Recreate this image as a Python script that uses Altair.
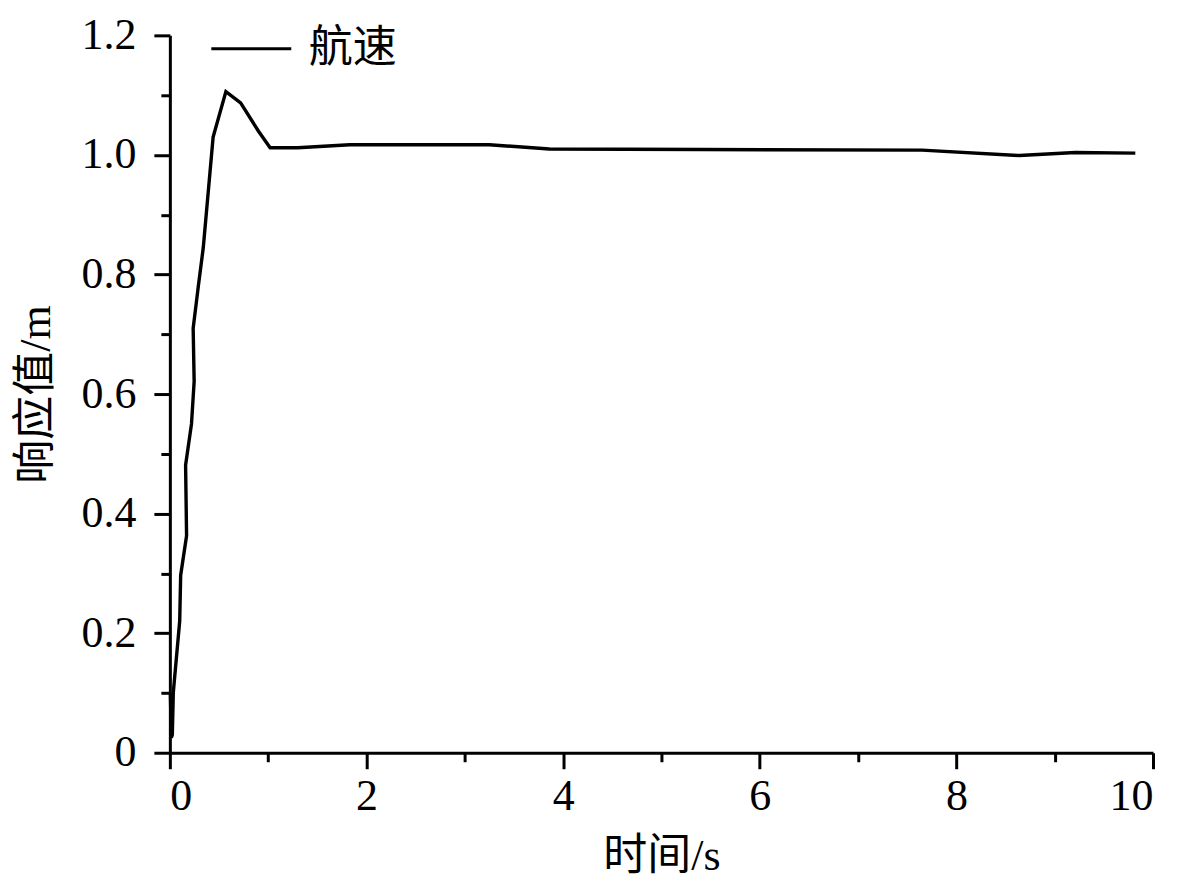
import altair as alt
import pandas as pd

# time (s) and response values
t_vals = [0.005, 0.015, 0.025, 0.035, 0.04, 0.10, 0.11, 0.17, 0.16, 0.22, 0.247, 0.237,
          0.29, 0.34, 0.44, 0.57, 0.72, 0.90, 1.02, 1.30, 1.83, 3.25, 3.86, 5.40,
          7.65, 8.64, 9.21, 9.82]
v_vals = [0.10, 0.025, 0.03, 0.10, 0.11, 0.22, 0.297, 0.363, 0.481, 0.550, 0.621, 0.710,
          0.781, 0.845, 1.030, 1.106, 1.087, 1.040, 1.012, 1.012, 1.017, 1.017, 1.010, 1.009,
          1.008, 0.999, 1.004, 1.003]
series = "航速"
x_ticks = [0, 1, 2, 3, 4, 5, 6, 7, 8, 9, 10]
y_ticks = [0, 0.1, 0.2, 0.3, 0.4, 0.5, 0.6, 0.7, 0.8, 0.9, 1.0, 1.1, 1.2]

df = pd.DataFrame({"t": t_vals, "v": v_vals, "i": list(range(len(t_vals))), "s": series})

FONT = "Liberation Serif, Noto Sans CJK SC"

chart = alt.Chart(df).mark_line(strokeWidth=3.4, strokeJoin="miter").encode(
    x=alt.X("t:Q", scale=alt.Scale(domain=[0, 10], nice=False, zero=False),
            axis=alt.Axis(title="时间/s", values=x_ticks,
                          labelExpr="datum.value % 2 === 0 ? datum.label : ''",
                          tickSize={"condition": {"test": "datum.value % 2 === 1", "value": 9}, "value": 16},
                          labelPadding=6, titlePadding=16, grid=False)),
    y=alt.Y("v:Q", scale=alt.Scale(domain=[0, 1.2], nice=False),
            axis=alt.Axis(title="响应值/m", values=y_ticks,
                          labelExpr="abs(datum.value*10 - round(datum.value*10)) > 0.01 || round(datum.value*10) % 2 === 1 ? '' : (datum.value === 0 ? '0' : format(datum.value, '.1f'))",
                          tickSize={"condition": {"test": "round(datum.value*10) % 2 === 1", "value": 9}, "value": 16},
                          labelPadding=18, titlePadding=22, grid=False)),
    order="i:Q",
    color=alt.Color("s:N", scale=alt.Scale(range=["#000000"]),
                    legend=alt.Legend(title=None, orient="none", legendX=40, legendY=-28,
                                      symbolType="stroke", symbolSize=6400, symbolStrokeWidth=3,
                                      labelFontSize=44, labelFont=FONT, labelOffset=16,
                                      padding=0, labelColor="#000000")),
).properties(
    width=984, height=718,
    autosize=alt.AutoSizeParams(type="none"),
    padding={"left": 162, "top": 27, "right": 20, "bottom": 135},
).configure_axis(
    domainColor="#000000", domainWidth=3, tickColor="#000000", tickWidth=3,
    labelFont=FONT, labelFontSize=44, labelColor="#000000",
    titleFont=FONT, titleFontSize=44, titleColor="#000000", titleFontWeight="normal",
).configure_view(stroke=None)

chart.save("out.html", embed_options={"renderer": "svg", "actions": False})
